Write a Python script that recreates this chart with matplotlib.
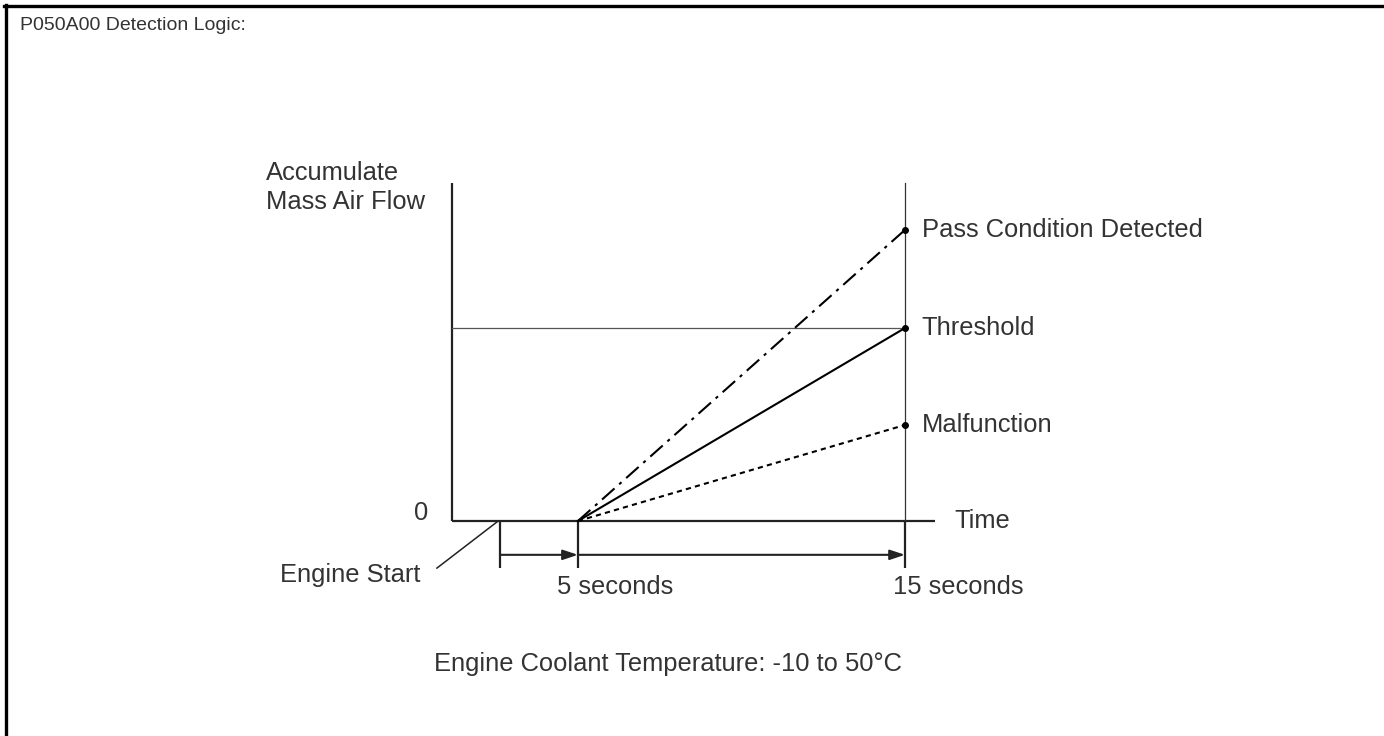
import matplotlib
matplotlib.use("Agg")
import matplotlib.pyplot as plt
from matplotlib.lines import Line2D

plt.rcParams['font.family'] = ['Liberation Sans', 'DejaVu Sans']

# schematic values (diagram units: time axis 0..15, flow axis 0..11)
event_names = ["Engine Start", "5 seconds", "15 seconds"]
event_t = [1.6, 4.17, 15.0]
curve_names = ["Pass Condition Detected", "Threshold", "Malfunction"]
curve_end = [9.64, 6.39, 3.18]
curve_styles = ["dashdot", "solid", "dotted"]
threshold = 6.39
flow_top = 11.2
time_end = 15.98

W, H = 1384, 736
scale = 30.2      # pixels per diagram unit
x0_px, y0_px = 452, 521

fig = plt.figure(figsize=(W / 100, H / 100), dpi=100)
ax = fig.add_axes([0, 0, 1, 1])
ax.set_xlim(-x0_px / scale, (W - x0_px) / scale)
ax.set_ylim(-(H - y0_px) / scale, y0_px / scale)
ax.axis("off")

txt = "#333333"
fs = 18.4

# frame of the page (top and left edges only)
fig.add_artist(Line2D([4 / W, 1], [1 - 6 / H, 1 - 6 / H], color="black", lw=2.4,
                      transform=fig.transFigure))
fig.add_artist(Line2D([6 / W, 6 / W], [0, 1 - 5 / H], color="black", lw=2.4,
                      transform=fig.transFigure))
fig.text(20 / W, 1 - 26 / H, "P050A00 Detection Logic:", fontsize=14, color=txt,
         va="center", ha="left")

# axes of the diagram
ax.plot([0, 0], [0, flow_top], color="#222222", lw=1.6, solid_capstyle="butt")
ax.plot([0, time_end], [0, 0], color="#222222", lw=1.6, solid_capstyle="butt")
ax.plot([0, event_t[2]], [threshold, threshold], color="#555555", lw=0.9)
ax.plot([event_t[2], event_t[2]], [0, flow_top], color="#333333", lw=0.9)

# ticks below time axis
tick_low = -1.55
for t in event_t:
    ax.plot([t, t], [0, tick_low], color="#222222", lw=1.6, solid_capstyle="butt")

# interval arrows
arr_y = -1.12
ax.annotate("", xy=(event_t[1], arr_y), xytext=(event_t[0], arr_y),
            arrowprops=dict(arrowstyle="-|>,head_length=0.9,head_width=0.3",
                            color="#222222", lw=1.5, shrinkA=0, shrinkB=0))
ax.annotate("", xy=(event_t[2], arr_y), xytext=(event_t[1], arr_y),
            arrowprops=dict(arrowstyle="-|>,head_length=0.9,head_width=0.3",
                            color="#222222", lw=1.5, shrinkA=0, shrinkB=0))

# accumulated flow curves
dash_map = {"dashdot": (0, (8, 3, 1.5, 3)), "solid": "-", "dotted": (0, (2.5, 2))}
for name, end, st in zip(curve_names, curve_end, curve_styles):
    ax.plot([event_t[1], event_t[2]], [0, end], color="black", lw=1.5,
            linestyle=dash_map[st])
    ax.plot(event_t[2], end, "o", color="black", ms=4)
    ax.text(event_t[2] + 0.55, end, name, fontsize=fs, color=txt, va="center", ha="left")

# engine start leader line
ax.plot([event_t[0] - 0.07, -0.5], [0, -1.56], color="#222222", lw=1.1)

# labels
ax.text(-6.15, 11.05, "Accumulate\nMass Air Flow", fontsize=fs, color=txt, va="center",
        ha="left", linespacing=1.25)
ax.text(-0.8, 0.27, "0", fontsize=fs, color=txt, va="center", ha="right")
ax.text(time_end + 0.65, 0, "Time", fontsize=fs, color=txt, va="center", ha="left")
ax.text(-1.05, -1.8, event_names[0], fontsize=fs, color=txt, va="center", ha="right")
ax.text(event_t[1] - 0.7, -2.2, event_names[1], fontsize=fs, color=txt, va="center", ha="left")
ax.text(event_t[2] - 0.4, -2.2, event_names[2], fontsize=fs, color=txt, va="center", ha="left")
ax.text(-0.6, -4.75, "Engine Coolant Temperature: -10 to 50°C", fontsize=fs, color=txt,
        va="center", ha="left")

fig.savefig("out.png", dpi=100)
